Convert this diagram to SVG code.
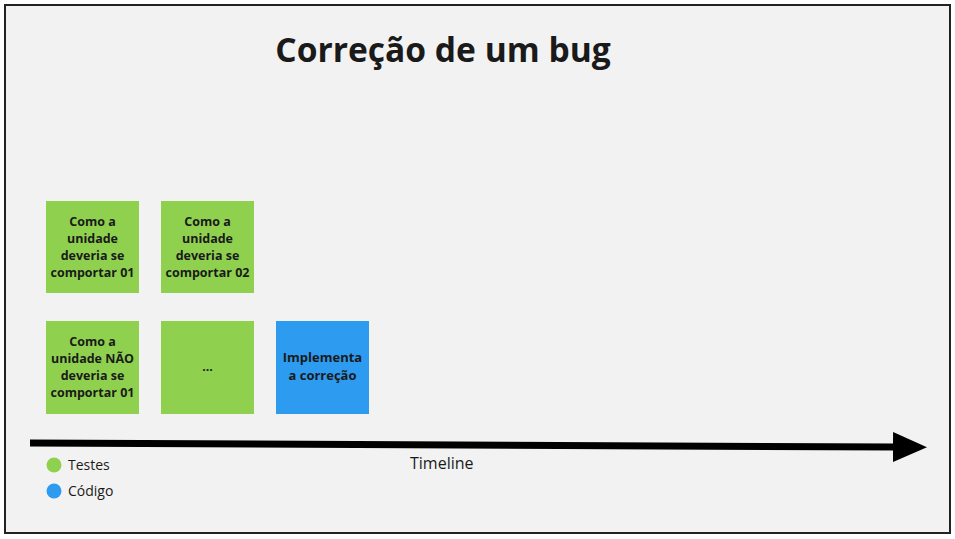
<svg xmlns="http://www.w3.org/2000/svg" width="955" height="539" viewBox="0 0 955 539">
<style>
.bg{fill:#f2f2f2;stroke:#222;stroke-width:2}
.g{fill:#8fd14f}
.b{fill:#2d9bf0}
.t{font-family:"Open Sans","Liberation Sans",sans-serif;font-weight:bold;font-size:12.5px;fill:#1a1a1a;text-anchor:middle}
.l{font-family:"Open Sans","Liberation Sans",sans-serif;font-size:14px;fill:#1a1a1a}
</style>
<defs>
<marker id="ah" markerUnits="userSpaceOnUse" markerWidth="36" markerHeight="32" refX="2" refY="15" orient="auto">
<path d="M0,0 L34,15 L0,30 Z" fill="#000"/>
</marker>
</defs>
<rect x="5" y="5" width="945" height="528" class="bg"/>
<text x="443" y="62" style="font-family:'Open Sans','Liberation Sans',sans-serif;font-weight:bold;font-size:33.6px;fill:#1a1a1a;text-anchor:middle">Correção de um bug</text>
<g id="n1"><rect x="46" y="201" width="93" height="92" class="g"/>
<text class="t"><tspan x="92.5" y="226">Como a</tspan><tspan x="92.5" y="243">unidade</tspan><tspan x="92.5" y="260">deveria se</tspan><tspan x="92.5" y="277">comportar 01</tspan></text></g>
<g id="n2"><rect x="161" y="201" width="93" height="92" class="g"/>
<text class="t"><tspan x="207.5" y="226">Como a</tspan><tspan x="207.5" y="243">unidade</tspan><tspan x="207.5" y="260">deveria se</tspan><tspan x="207.5" y="277">comportar 02</tspan></text></g>
<g id="n3"><rect x="46" y="321" width="93" height="93" class="g"/>
<text class="t"><tspan x="92.5" y="346">Como a</tspan><tspan x="92.5" y="363">unidade NÃO</tspan><tspan x="92.5" y="380">deveria se</tspan><tspan x="92.5" y="397">comportar 01</tspan></text></g>
<g id="n4"><rect x="161" y="321" width="93" height="93" class="g"/>
<text class="t" x="207.5" y="371">...</text></g>
<g id="n5"><rect x="276" y="321" width="93" height="93" class="b"/>
<text class="t" style="font-size:13px"><tspan x="322.5" y="362">Implementa</tspan><tspan x="322.5" y="380">a correção</tspan></text></g>
<g id="connectors">
<line x1="30" y1="443" x2="895" y2="447" stroke="#000" stroke-width="7" marker-end="url(#ah)"/>
</g>
<g id="legend">
<circle cx="54" cy="465" r="7.5" class="g"/>
<text class="l" x="68" y="470">Testes</text>
<circle cx="54" cy="491" r="7.5" class="b"/>
<text class="l" x="68" y="496">Código</text>
</g>
<text class="l" x="410" y="469" style="font-size:16px">Timeline</text>
</svg>
